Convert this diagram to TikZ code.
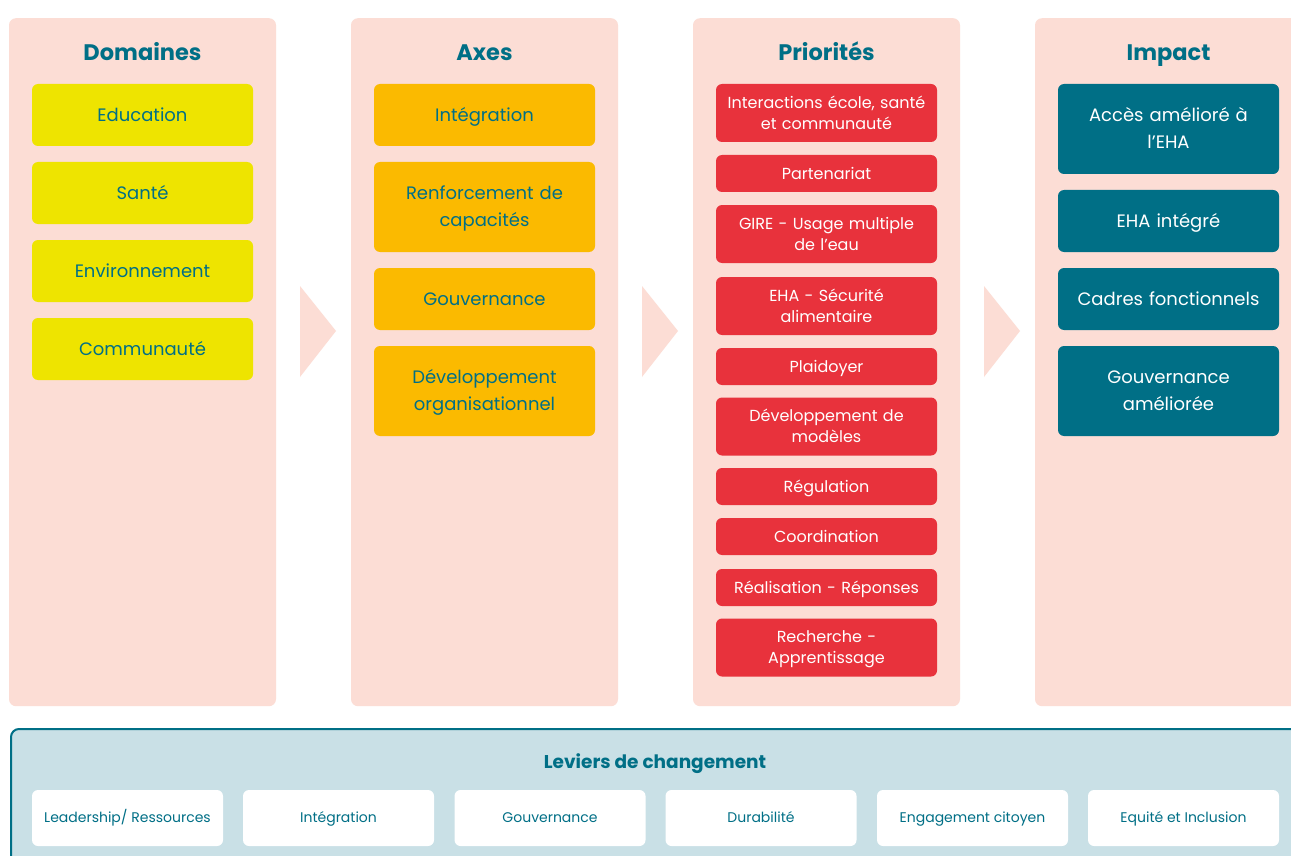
\documentclass[tikz,border=0pt]{standalone}
\usepackage{fontspec}
\setmainfont{Poppins}
\definecolor{panel}{HTML}{FCDDD5}
\definecolor{tealc}{HTML}{006F86}
\definecolor{dyellow}{HTML}{EEE400}
\definecolor{aorange}{HTML}{FBBA00}
\definecolor{pred}{HTML}{E8323C}
\definecolor{lever}{HTML}{C9E0E6}
\begin{document}
\begin{tikzpicture}[x=1pt,y=-1pt,
  panelbox/.style={fill=panel, rounded corners=7pt, minimum width=267pt, minimum height=688pt, inner sep=0pt, anchor=north},
  hdr/.style={text=tealc, font=\fontsize{22.5}{27}\selectfont\bfseries, anchor=base, inner sep=0pt},
  box/.style={rounded corners=6pt, minimum width=221pt, text width=215pt, inner sep=0pt, align=center, font=\fontsize{18}{27}\selectfont, text height=12.6pt, text depth=0pt},
  one/.style={text depth=0pt},
  two/.style={text depth=27pt},
  dom/.style={box, one, fill=dyellow, text=tealc},
  axe/.style={box, fill=aorange, text=tealc},
  prio/.style={box, fill=pred, text=white, font=\fontsize{16}{21}\selectfont, text height=11.2pt},
  pone/.style={text depth=0pt},
  ptwo/.style={text depth=21pt},
  imp/.style={box, fill=tealc, text=white},
  lbox/.style={fill=white, rounded corners=6pt, minimum width=191pt, minimum height=56pt, inner sep=0pt, text=tealc, font=\fontsize{14}{18}\selectfont, text height=9.8pt, text depth=0pt},
  chev/.style={fill=panel}
]
\useasboundingbox (0,0) rectangle (1291,856);
\clip (0,0) rectangle (1291,856);
\fill[white] (0,0) rectangle (1291,856);

% panels
\node[panelbox] (pdom) at (142.5,18) {};
\node[panelbox] (paxe) at (484.5,18) {};
\node[panelbox] (pprio) at (826.5,18) {};
\node[panelbox] (pimp) at (1168.5,18) {};

% chevrons
\fill[chev] (300,286) -- (336,331) -- (300,377) -- cycle;
\fill[chev] (642,286) -- (678,331) -- (642,377) -- cycle;
\fill[chev] (984,286) -- (1020,331) -- (984,377) -- cycle;

% headers
\node[hdr] (hdom) at (142.5,61) {Domaines};
\node[hdr] (haxe) at (484.5,61) {Axes};
\node[hdr] (hprio) at (826.5,61) {Priorités};
\node[hdr] (himp) at (1168.5,61) {Impact};

% Domaines
\node[dom, minimum height=62pt] (d1) at (142.5,115) {Education};
\node[dom, minimum height=62pt] (d2) at (142.5,193) {Santé};
\node[dom, minimum height=62pt] (d3) at (142.5,271) {Environnement};
\node[dom, minimum height=62pt] (d4) at (142.5,349) {Communauté};

% Axes
\node[axe, one, minimum height=62pt] (a1) at (484.5,115) {Intégration};
\node[axe, two, minimum height=90pt] (a2) at (484.5,207) {Renforcement de\\capacités};
\node[axe, one, minimum height=62pt] (a3) at (484.5,299) {Gouvernance};
\node[axe, two, minimum height=90pt] (a4) at (484.5,391) {Développement\\organisationnel};

% Priorites
\node[prio, ptwo, minimum height=58pt] (p1) at (826.5,113) {Interactions école, santé\\et communauté};
\node[prio, pone, minimum height=37pt] (p2) at (826.5,173.5) {Partenariat};
\node[prio, ptwo, minimum height=58pt] (p3) at (826.5,234) {GIRE - Usage multiple\\de l’eau};
\node[prio, ptwo, minimum height=58pt] (p4) at (826.5,306) {EHA - Sécurité\\alimentaire};
\node[prio, pone, minimum height=37pt] (p5) at (826.5,366.5) {Plaidoyer};
\node[prio, ptwo, minimum height=58pt] (p6) at (826.5,426.5) {Développement de\\modèles};
\node[prio, pone, minimum height=37pt] (p7) at (826.5,486.5) {Régulation};
\node[prio, pone, minimum height=37pt] (p8) at (826.5,536.5) {Coordination};
\node[prio, pone, minimum height=37pt] (p9) at (826.5,587.5) {Réalisation - Réponses};
\node[prio, ptwo, minimum height=58pt] (p10) at (826.5,647.5) {Recherche -\\Apprentissage};

% Impact
\node[imp, two, minimum height=90pt] (i1) at (1168.5,129) {Accès amélioré à\\l’EHA};
\node[imp, one, minimum height=62pt] (i2) at (1168.5,221) {EHA intégré};
\node[imp, one, minimum height=62pt] (i3) at (1168.5,299) {Cadres fonctionnels};
\node[imp, two, minimum height=90pt] (i4) at (1168.5,391) {Gouvernance\\améliorée};

% Leviers
\node[fill=lever, draw=tealc, line width=2pt, rounded corners=8pt, anchor=north west, minimum width=1300pt, minimum height=160pt, inner sep=0pt] (lev) at (10,728) {};
\node[text=tealc, font=\fontsize{18.5}{24}\selectfont\bfseries, anchor=base, inner sep=0pt] (levt) at (655,768) {Leviers de changement};
\node[lbox] (l1) at (127.5,818) {Leadership/ Ressources};
\node[lbox] (l2) at (338.5,818) {Intégration};
\node[lbox] (l3) at (550,818) {Gouvernance};
\node[lbox] (l4) at (761,818) {Durabilité};
\node[lbox] (l5) at (972.5,818) {Engagement citoyen};
\node[lbox] (l6) at (1183.5,818) {Equité et Inclusion};
\end{tikzpicture}
\end{document}
